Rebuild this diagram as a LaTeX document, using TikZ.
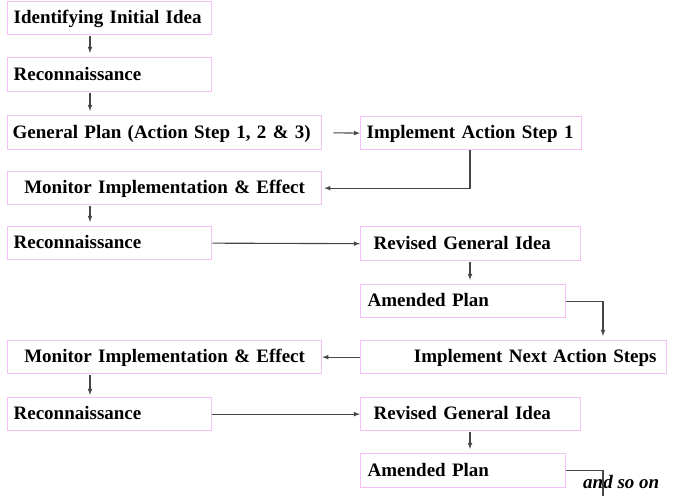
\documentclass[tikz,border=0pt]{standalone}
\usepackage{fontspec}
\usepackage{xcolor}
\usepackage{tikz}
\usetikzlibrary{arrows, positioning, calc}
\setmainfont{Liberation Serif}
\definecolor{boxpink}{RGB}{245, 192, 245}
\definecolor{linkgray}{RGB}{70, 70, 70}

\begin{document}
\begin{tikzpicture}[x=1pt, y=-1pt,
    stepbox/.style={draw=boxpink, line width=1.3pt, anchor=north west,
        inner xsep=6pt, inner ysep=0pt, text height=22pt, text depth=11pt,
        font=\bfseries\fontsize{19}{22}\selectfont, align=left},
    link/.style={draw=linkgray, line width=1.1pt, >=latex}]
    \useasboundingbox (0,0) rectangle (674,496);

    % first cycle
    \node[stepbox, text width=192pt] (idea) at (7,1) {Identifying Initial Idea};
    \node[stepbox, text width=192pt, minimum height=34pt] (recon1) at (7,57) {Reconnaissance};
    \node[stepbox, text width=304pt, inner xsep=5pt, minimum height=34pt] (plan) at (7,115) {General Plan (Action Step 1, 2 \& 3)};
    \node[stepbox, text width=302pt, align=center] (monitor1) at (7,171) {Monitor Implementation \& Effect};
    \node[stepbox, text width=213pt, inner xsep=4pt] (impl1) at (360,116) {\hspace*{2pt}Implement Action Step 1};

    % second cycle
    \node[stepbox, text width=192pt] (recon2) at (7,226) {Reconnaissance};
    \node[stepbox, text width=194pt, inner xsep=13pt, minimum height=34pt] (revised1) at (360,226) {Revised General Idea};
    \node[stepbox, text width=191pt, inner xsep=7pt] (amended1) at (360,284) {Amended Plan};
    \node[stepbox, text width=286pt, inner xsep=10pt, align=right] (implnext) at (360,340) {Implement Next Action Steps};
    \node[stepbox, text width=302pt, align=center] (monitor2) at (7,340) {Monitor Implementation \& Effect};

    % third cycle
    \node[stepbox, text width=192pt] (recon3) at (7,397) {Reconnaissance};
    \node[stepbox, text width=194pt, inner xsep=13pt] (revised2) at (360,397) {Revised General Idea};
    \node[stepbox, text width=191pt, inner xsep=7pt, minimum height=34pt] (amended2) at (360,453) {Amended Plan};
    \node[anchor=base west, inner sep=0pt, font=\bfseries\itshape\fontsize{19}{22}\selectfont] (andso) at (583,488) {and so on};
    \coordinate (loose) at (603,496);

    % connectors
    \draw[link, ->, shorten >=4pt, shorten <=1pt] ([xshift=83pt]idea.south west) -- ([xshift=83pt]recon1.north west);
    \draw[link, ->, shorten >=4pt, shorten <=1pt] ([xshift=83pt]recon1.south west) -- ([xshift=83pt]plan.north west);
    \draw[link, ->, shorten <=11pt] (plan.east) -- (impl1.west);
    \draw[link, ->, shorten >=2pt] ([xshift=110pt]impl1.south west) |- (monitor1.east);
    \draw[link, ->, shorten >=4pt, shorten <=1pt] ([xshift=83pt]monitor1.south west) -- ([xshift=83pt]recon2.north west);
    \draw[link, ->] (recon2.east) -- (revised1.west);
    \draw[link, ->, shorten >=4pt, shorten <=1pt] ([xshift=110pt]revised1.south west) -- ([xshift=110pt]amended1.north west);
    \draw[link, ->, shorten >=4pt] (amended1.east) -| ([xshift=243pt]implnext.north west);
    \draw[link, ->] (implnext.west) -- (monitor2.east);
    \draw[link, ->, shorten >=2pt, shorten <=1pt] ([xshift=83pt]monitor2.south west) -- ([xshift=83pt]recon3.north west);
    \draw[link, ->] (recon3.east) -- (revised2.west);
    \draw[link, ->, shorten >=4pt, shorten <=1pt] ([xshift=110pt]revised2.south west) -- ([xshift=110pt]amended2.north west);
    \draw[link] (amended2.east) -| (loose);
\end{tikzpicture}
\end{document}
